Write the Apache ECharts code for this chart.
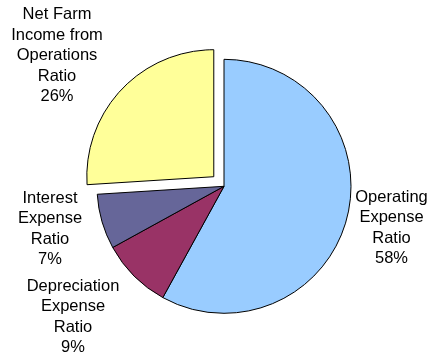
<!DOCTYPE html>
<html>
<head>
<meta charset="utf-8">
<script src="https://cdn.jsdelivr.net/npm/echarts@6/dist/echarts.min.js"></script>
<style>
  html, body { margin: 0; padding: 0; background: #fff; }
  #chart { width: 430px; height: 353px; }
</style>
</head>
<body>
<div id="chart"></div>
<script>
// Farm expense ratios, clockwise from 12 o'clock
const categories = [
  'Operating\nExpense\nRatio',
  'Depreciation\nExpense\nRatio',
  'Interest\nExpense\nRatio',
  'Net Farm\nIncome from\nOperations\nRatio'
];
const ratioValues = [58, 9, 7, 26];
const sliceColors = ['#99CCFF', '#993366', '#666699', '#FFFF99'];
const pulledOut = [false, false, false, true];

// Label anchor points (centre x, top y) for each slice
const labelAnchors = [
  [391.5, 187],
  [73, 276],
  [50, 188],
  [57, 4.5]
];

const total = ratioValues.reduce(function (s, v) { return s + v; }, 0);
const labelFont = '16.5px "Liberation Sans", Arial, sans-serif';

const chart = echarts.init(document.getElementById('chart'), null, { renderer: 'canvas' });

chart.setOption({
  animation: false,
  backgroundColor: '#ffffff',
  series: [{
    type: 'pie',
    center: [224, 186.3],
    radius: 127,
    startAngle: 90,
    clockwise: true,
    avoidLabelOverlap: false,
    selectedMode: 'multiple',
    selectedOffset: 14,
    emphasis: { disabled: true },
    itemStyle: { borderColor: '#000000', borderWidth: 1 },
    label: { show: false },
    labelLine: { show: false },
    data: categories.map(function (name, i) {
      return {
        name: name,
        value: ratioValues[i],
        selected: pulledOut[i],
        itemStyle: { color: sliceColors[i] },
        select: { itemStyle: { color: sliceColors[i], borderColor: '#000000', borderWidth: 1 } }
      };
    })
  }],
  // Slice labels: category name plus its share of the total
  graphic: categories.map(function (name, i) {
    return {
      type: 'text',
      x: labelAnchors[i][0],
      y: labelAnchors[i][1],
      silent: true,
      style: {
        text: name + '\n' + Math.round(ratioValues[i] / total * 100) + '%',
        font: labelFont,
        lineHeight: 20.5,
        fill: '#000000',
        align: 'center',
        verticalAlign: 'top'
      }
    };
  })
});
</script>
</body>
</html>
